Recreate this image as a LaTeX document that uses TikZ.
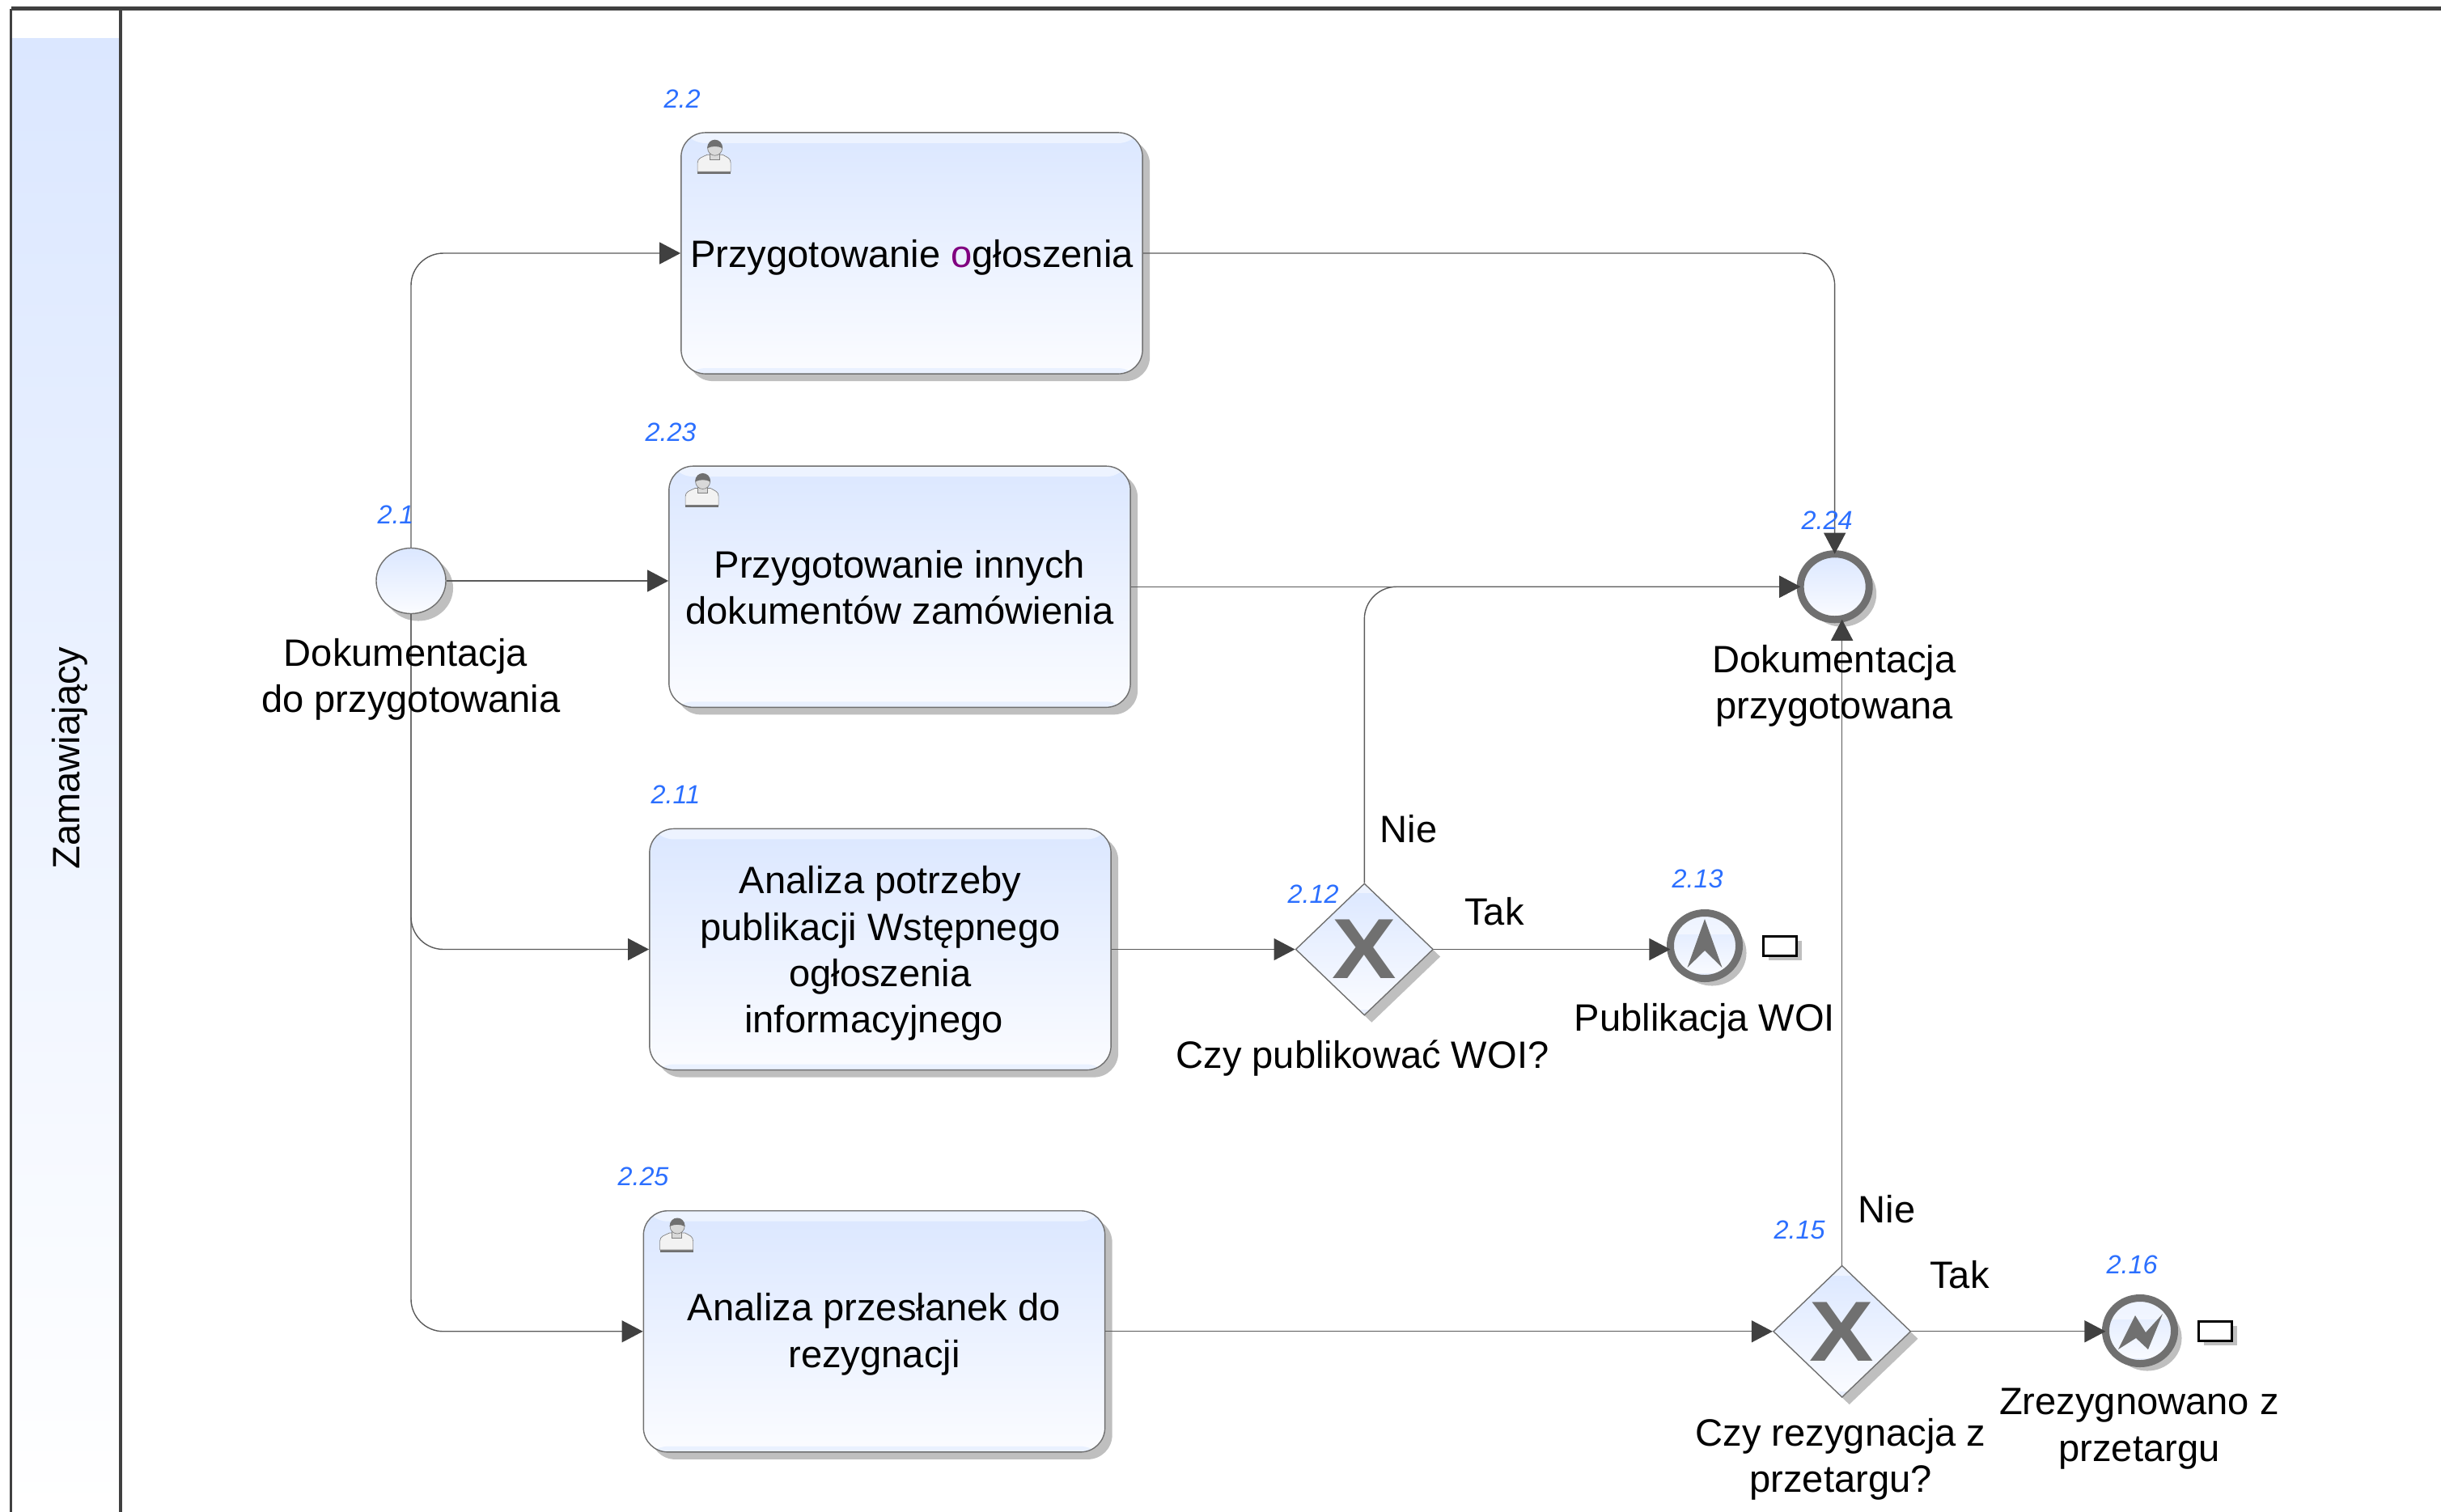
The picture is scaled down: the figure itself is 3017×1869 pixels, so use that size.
\documentclass[tikz,border=0pt]{standalone}
\usepackage{fontspec}
\setmainfont{Liberation Sans}
\usetikzlibrary{shapes.geometric,arrows.meta,shadows}
\definecolor{bpmntop}{HTML}{DBE7FF}
\definecolor{bpmnbot}{HTML}{FBFCFF}
\definecolor{bpmnline}{HTML}{5A5A5A}
\definecolor{bpmndark}{HTML}{404040}
\definecolor{bpmnring}{HTML}{707070}
\definecolor{bpmnid}{HTML}{2B6FFF}
\definecolor{bpmno}{HTML}{800080}

\begin{document}
\begin{tikzpicture}[
    x=.01cm, y=-.01cm,
    every node/.style={font=\fontsize{13.4}{16.3}\selectfont},
    shadowed/.style={drop shadow={shadow xshift=.09cm, shadow yshift=-.09cm, fill=black!25, opacity=1}},
    band/.style={path picture={
        \fill[white, opacity=.5] (path picture bounding box.north west) rectangle ([yshift=-#1]path picture bounding box.north east);
        \fill[bpmntop, opacity=.5] (path picture bounding box.south west) rectangle ([yshift=.07cm]path picture bounding box.south east);}},
    band/.default=.13cm,
    task/.style={rectangle, rounded corners=.3cm, draw=bpmnring, line width=.4pt, top color=bpmntop, bottom color=bpmnbot, shadowed, band, minimum width=5.7cm, minimum height=2.98cm, inner sep=0pt},
    startev/.style={ellipse, draw=bpmnring, line width=.4pt, top color=bpmntop, bottom color=bpmnbot, shadowed, minimum width=.86cm, minimum height=.81cm, inner sep=0pt},
    ringev/.style={ellipse, draw=bpmnring, line width=.09cm, top color=bpmntop, bottom color=bpmnbot, shadowed, minimum width=.85cm, minimum height=.81cm, inner sep=0pt, outer sep=0pt},
    gateway/.style={diamond, draw=bpmnring, line width=.4pt, top color=bpmntop, bottom color=bpmnbot, shadowed, band=.12cm, minimum width=1.7cm, minimum height=1.63cm, inner sep=0pt, text=bpmnring, font=\fontsize{30}{30}\selectfont\bfseries},
    marker/.style={rectangle, draw=black, line width=.03cm, fill=white, drop shadow={shadow xshift=.06cm, shadow yshift=-.06cm, fill=black!25, opacity=1}, minimum width=.41cm, minimum height=.24cm, inner sep=0pt},
    lbl/.style={align=center, inner sep=0pt},
    idlabel/.style={text=bpmnid, inner sep=0pt, font=\fontsize{9.2}{11}\selectfont\itshape},
    arrow/.style={draw=bpmnline, line width=.4pt, ->, >={Triangle[length=.26cm, width=.27cm, color=bpmndark]}},
    poolline/.style={draw=bpmndark, line width=.035cm},
    person/.pic={
        \fill[bpmnring] (21,49) rectangle (62,52);
        \draw[fill=black!5, draw=black!50, line width=.2pt] (21,49) -- (21,38) .. controls (21,32) and (27,31) .. (33,28) -- (52,28) .. controls (57,31) and (62,32) .. (62,38) -- (62,49) -- cycle;
        \draw[fill=black!15, draw=black!50, line width=.2pt] (36,24) rectangle (48,34);
        \draw[fill=black!15, draw=black!50, line width=.2pt] (42.5,20) ellipse (9 and 9);
        \fill[bpmnring] (33,20) .. controls (33,6) and (52,6) .. (52,20) .. controls (46,17) and (39,17) .. (33,20) -- cycle;},
    woiarrow/.pic={\fill[bpmnring] (0,-33) -- (-21.5,27) -- (0,6) -- (21.5,27) -- cycle;},
    bolt/.pic={\fill[bpmnring] (-27,23) -- (-6,-19) -- (7,2) -- (28,-21) -- (10,23) -- (-5,9) -- cycle;}
]
\useasboundingbox (0,0) rectangle (3017,1869);

% PULA
\node[rectangle, top color=bpmntop, bottom color=white, minimum width=1.32cm, minimum height=18.21cm, inner sep=0pt] (lane) at (81,958.5) {};
\node[rotate=90, inner sep=0pt] (lanetxt) at (86,937) {Zamawiający};
\coordinate (pooltl) at (13.5,10.5);
\coordinate (poolbl) at (13.5,1869);
\coordinate (pooltr) at (3017,10.5);
\coordinate (divtop) at (149,10.5);
\coordinate (divbot) at (149,1869);
\draw[poolline] (poolbl) -- (pooltl);
\draw[poolline, line width=.045cm] (pooltl) -- (pooltr);
\draw[poolline] (divtop) -- (divbot);

% ZADANIA
\node[task] (task22) at (1127,313) {};
\node[task, below of=task22, node distance=4.12cm, xshift=-.15cm] (task23) {};
\node[task, below of=task23, node distance=4.48cm, xshift=-.24cm] (task11) {};
\node[task, below of=task11, node distance=4.72cm, xshift=-.075cm] (task25) {};
\pic at (task22.north west) {person};
\pic at (task23.north west) {person};
\pic at (task25.north west) {person};
\node[lbl, yshift=-.055cm] (txt22) at (task22) {Przygotowanie {\color{bpmno}o}głoszenia};
\node[lbl, yshift=-.01cm] (txt23) at (task23) {Przygotowanie innych\\dokumentów zamówienia};
\node[lbl, yshift=-.05cm] (txt11) at (task11) {Analiza potrzeby\\publikacji Wstępnego\\ogłoszenia\\informacyjnego\hspace*{4.5pt}};
\node[lbl, yshift=-.035cm] (txt25) at (task25) {Analiza przesłanek do\\rezygnacji};

% ZDARZENIA I BRAMKI
\node[startev] (start) at (508,718) {};
\node[ringev, right of=task23, node distance=11.55cm] (end) {};
\node[gateway, right of=task11, node distance=5.98cm] (gw12) {\scalebox{1.13}[1]{X}};
\node[ringev, band=.26cm] (ev13) at (2107,1169) {};
\node[marker, right of=ev13, node distance=.93cm] (mark13) {};
\node[gateway, right of=task25, node distance=11.955cm] (gw15) {\scalebox{1.13}[1]{X}};
\node[ringev, band=.26cm] (ev16) at (2645,1645) {};
\node[marker, right of=ev16, node distance=.93cm] (mark16) {};
\pic at (ev13) {woiarrow};
\pic at (ev16) {bolt};

% POLACZENIA
\draw[arrow, rounded corners=.4cm] (start.north) |- (task22.west);
\draw[arrow] (start.east) -- (task23.west |- start.east);
\draw[arrow, rounded corners=.4cm] (start.south) |- (task11.west);
\draw[arrow, rounded corners=.4cm] (start.south) |- (task25.west);
\draw[arrow, rounded corners=.4cm] (task22.east) -| (end.north);
\draw[arrow] (task23.east) -- (end.west);
\draw[arrow, rounded corners=.4cm] (gw12.north) |- (end.west);
\draw[arrow] (task11.east) -- (gw12.west);
\draw[arrow] (gw12.east) -- (gw12.east -| ev13.west);
\draw[arrow] (task25.east) -- (gw15.west);
\draw[arrow] (gw15.east) -- (gw15.east -| ev16.west);
\draw[arrow] (gw15.north) -- (gw15.north |- end.south);

% OPISY
\node[lbl] (txtstart) at (508,840) {Dokumentacja\hspace*{3.7pt}\\do przygotowania};
\node[lbl] (txtend) at (2267,848) {Dokumentacja\\przygotowana};
\node[lbl] (txtgw12) at (1684,1308) {Czy publikować WOI?};
\node[lbl] (txtev13) at (2107,1262) {Publikacja WOI};
\node[lbl] (txtgw15) at (2275,1804) {Czy rezygnacja z\\przetargu?};
\node[lbl] (txtev16) at (2644,1766) {Zrezygnowano z\\przetargu};
\node[lbl] (nie12) at (1741,1025) {Nie};
\node[lbl] (tak12) at (1847,1127) {Tak};
\node[lbl] (nie15) at (2332,1495) {Nie};
\node[lbl] (tak15) at (2422,1576) {Tak};

% NUMERY
\foreach \nm/\txt/\x/\y in {a/2.2/843/122, b/2.23/829/534, c/2.1/489/636, d/2.24/2258/643, e/2.11/835/982, f/2.12/1623/1105, g/2.13/2098/1086, h/2.25/795/1454, i/2.15/2224/1520, j/2.16/2635/1563}
    \node[idlabel] (id\nm) at (\x,\y) {\txt};

\end{tikzpicture}
\end{document}
